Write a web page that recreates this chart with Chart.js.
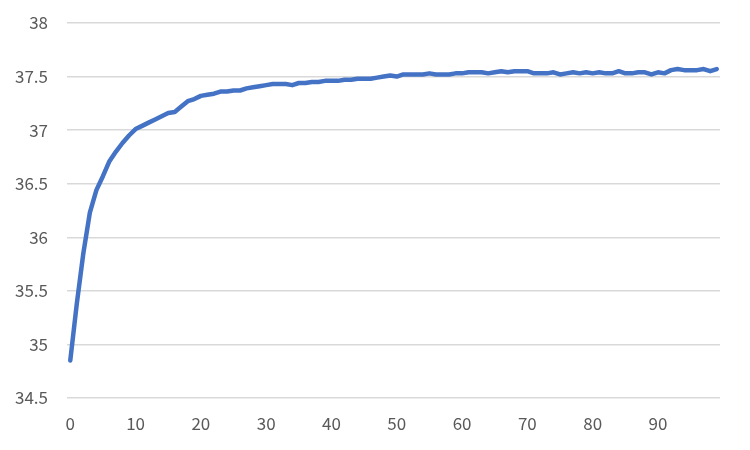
<!DOCTYPE html>
<html>
<head>
<meta charset="utf-8">
<script src="https://cdn.jsdelivr.net/npm/chart.js@4.4.0/dist/chart.umd.min.js"></script>
<style>
  body { margin: 0; background: #fff; }
  canvas { display: block; }
</style>
</head>
<body>
<canvas id="chart" width="750" height="450"></canvas>
<script>
// x categories 0..99
const categories = [];
for (let i = 0; i < 100; i++) categories.push(String(i));

// values
const values = [
    34.85, 35.38, 35.85, 36.23, 36.44, 36.57, 36.71, 36.80, 36.88, 36.95,
    37.01, 37.04, 37.07, 37.10, 37.13, 37.16, 37.17, 37.22, 37.27, 37.29,
    37.32, 37.33, 37.34, 37.36, 37.36, 37.37, 37.37, 37.39, 37.40, 37.41,
    37.42, 37.43, 37.43, 37.43, 37.42, 37.44, 37.44, 37.45, 37.45, 37.46,
    37.46, 37.46, 37.47, 37.47, 37.48, 37.48, 37.48, 37.49, 37.50, 37.51,
    37.50, 37.52, 37.52, 37.52, 37.52, 37.53, 37.52, 37.52, 37.52, 37.53,
    37.53, 37.54, 37.54, 37.54, 37.53, 37.54, 37.55, 37.54, 37.55, 37.55,
    37.55, 37.53, 37.53, 37.53, 37.54, 37.52, 37.53, 37.54, 37.53, 37.54,
    37.53, 37.54, 37.53, 37.53, 37.55, 37.53, 37.53, 37.54, 37.54, 37.52,
    37.54, 37.53, 37.56, 37.57, 37.56, 37.56, 37.56, 37.57, 37.55, 37.57
];

const yTicks = [34.5, 35, 35.5, 36, 36.5, 37, 37.5, 38];

const fontFamily = '"Noto Sans CJK KR", "Noto Sans", sans-serif';

const ctx = document.getElementById('chart').getContext('2d');
new Chart(ctx, {
    type: 'line',
    data: {
        labels: categories,
        datasets: [{
            data: values,
            borderColor: '#4472C4',
            borderWidth: 4.5,
            borderCapStyle: 'round',
            borderJoinStyle: 'round',
            pointRadius: 0,
            tension: 0,
            fill: false
        }]
    },
    options: {
        responsive: false,
        animation: false,
        layout: { padding: { left: 0, right: 30, top: 23, bottom: 0 } },
        plugins: {
            legend: { display: false },
            tooltip: { enabled: false }
        },
        scales: {
            x: {
                type: 'category',
                offset: true,
                grid: { display: false, drawTicks: false },
                border: { display: false },
                ticks: {
                    autoSkip: false,
                    maxRotation: 0,
                    padding: 15,
                    color: '#595959',
                    font: { family: fontFamily, size: 17 },
                    callback: function(v, i) {
                        return i % 10 === 0 ? categories[i] : '';
                    }
                },
                afterFit: function(scale) {
                    scale.height = 52;
                    scale.paddingLeft = 0;
                    scale.paddingRight = 0;
                }
            },
            y: {
                min: 34.5,
                max: 38,
                afterBuildTicks: function(scale) {
                    scale.ticks = yTicks.map(v => ({ value: v }));
                },
                grid: { color: '#D9D9D9', lineWidth: 1.5, drawTicks: false },
                border: { display: false },
                ticks: {
                    padding: 19,
                    color: '#595959',
                    font: { family: fontFamily, size: 17 },
                    callback: function(v) { return String(v); }
                },
                afterFit: function(scale) {
                    scale.width = 67;
                    scale.paddingTop = 0;
                    scale.paddingBottom = 0;
                }
            }
        }
    }
});
</script>
</body>
</html>
